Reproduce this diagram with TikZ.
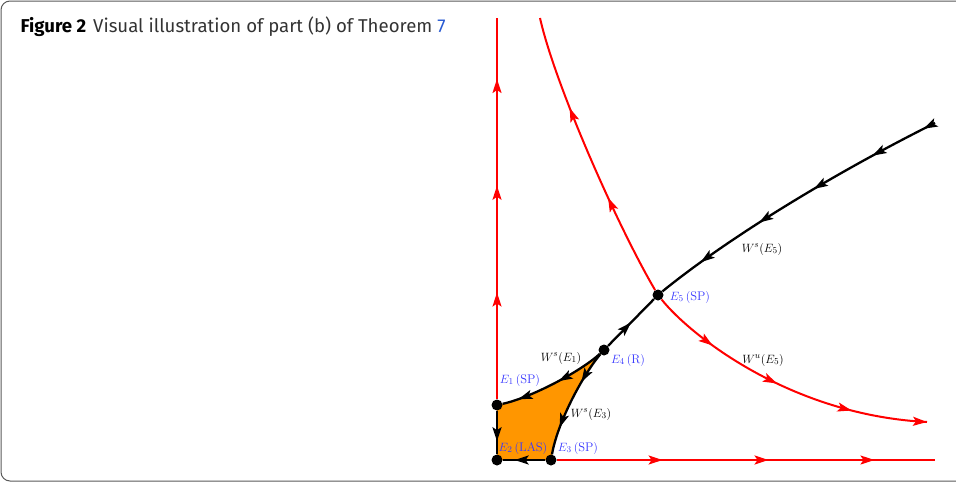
\documentclass[tikz,border=0pt]{standalone}
\usepackage{fontspec}
\setsansfont{Fira Sans}
\usetikzlibrary{arrows.meta,decorations.markings,backgrounds}
\definecolor{basin}{RGB}{255,150,0}
\definecolor{eqblue}{RGB}{55,55,255}
\definecolor{linkblue}{RGB}{40,90,210}
\tikzset{
  eq/.style={circle,fill=black,inner sep=0pt,minimum size=11pt},
  eqlab/.style={text=eqblue,font=\fontsize{12.5}{14}\selectfont,inner sep=0pt},
  mflab/.style={font=\fontsize{12.5}{14}\selectfont,inner sep=0pt},
  flow/.style={red,line width=2pt},
  orbit/.style={black,line width=2.3pt},
  tip/.style={postaction={decorate,decoration={markings,
    mark=at position #1 with {\arrow{Stealth[length=14pt,width=9pt,inset=3pt]}}}}}
}

\begin{document}
\begin{tikzpicture}[x=1pt,y=-1pt]
  \useasboundingbox (0,0) rectangle (956,482);
  \draw[black!65,line width=1pt,rounded corners=9pt] (1,1) rectangle (966,481);
  \node[anchor=base west,font=\sffamily\fontsize{18.6}{21}\selectfont] (cap) at (17,32)
    {\textbf{Figure 2}\hspace{7pt}{\color{black!80}Visual illustration of part (b) of Theorem} \textcolor{linkblue}{7}};

  % equilibria
  \node[eq] (E1) at (497,405) {};
  \node[eq] (E2) at (497,460) {};
  \node[eq] (E3) at (551,460) {};
  \node[eq] (E4) at (604,350) {};
  \node[eq] (E5) at (658,295) {};
  \coordinate (ytop) at (497,18);
  \coordinate (xend) at (935,460);
  \coordinate (sEnd) at (935,123);
  \coordinate (uTop) at (540,18);
  \coordinate (uEnd) at (927,422);

  % basin of E2
  \begin{scope}[on background layer]
    \fill[basin] (E2.center) -- (E1.center) .. controls (530,398) and (580,372) .. (E4.center)
      .. controls (585,372) and (558,420) .. (E3.center) -- cycle;
  \end{scope}

  % axes
  \draw[flow,tip=0.28,tip=0.56,tip=0.84] (E1) -- (ytop);
  \draw[flow,tip=0.28,tip=0.56,tip=0.84] (E3) -- (xend);
  \draw[orbit,tip=0.7] (E1) -- (E2);
  \draw[orbit,tip=0.72] (E3) -- (E2);

  % stable manifolds
  \draw[orbit,tip=0.45,tip=0.85] (E4) .. controls (580,372) and (530,398) .. (E1);
  \draw[orbit,tip=0.3,tip=0.75] (E4) .. controls (585,372) and (558,420) .. (E3);
  \draw[orbit,tip=0.5] (E4) -- (E5);
  \draw[orbit,tip=0.04,tip=0.22,tip=0.43,tip=0.63,tip=0.85] (sEnd) .. controls (825,178) and (723,242) .. (E5);

  % unstable manifold of E5
  \draw[flow,tip=0.35,tip=0.68,tip=1] (E5) .. controls (618,227) and (555,85) .. (uTop);
  \draw[flow,tip=0.23,tip=0.48,tip=0.745,tip=1] (E5) .. controls (690,335) and (790,415) .. (uEnd);

  % labels
  \node[mflab] (l5s) at (762,249) {$W^s(E_5)$};
  \node[mflab] (l5u) at (763,360) {$W^u(E_5)$};
  \node[mflab] (l1s) at (561,358) {$W^s(E_1)$};
  \node[mflab] (l3s) at (591,414) {$W^s(E_3)$};
  \node[eqlab] (t5) at (690,297) {$E_5\,(\mathrm{SP})$};
  \node[eqlab] (t4) at (628,360) {$E_4\,(\mathrm{R})$};
  \node[eqlab] (t1) at (520,380) {$E_1\,(\mathrm{SP})$};
  \node[eqlab] (t2) at (523,448) {$E_2\,(\mathrm{LAS})$};
  \node[eqlab] (t3) at (578,448) {$E_3\,(\mathrm{SP})$};
\end{tikzpicture}
\end{document}
